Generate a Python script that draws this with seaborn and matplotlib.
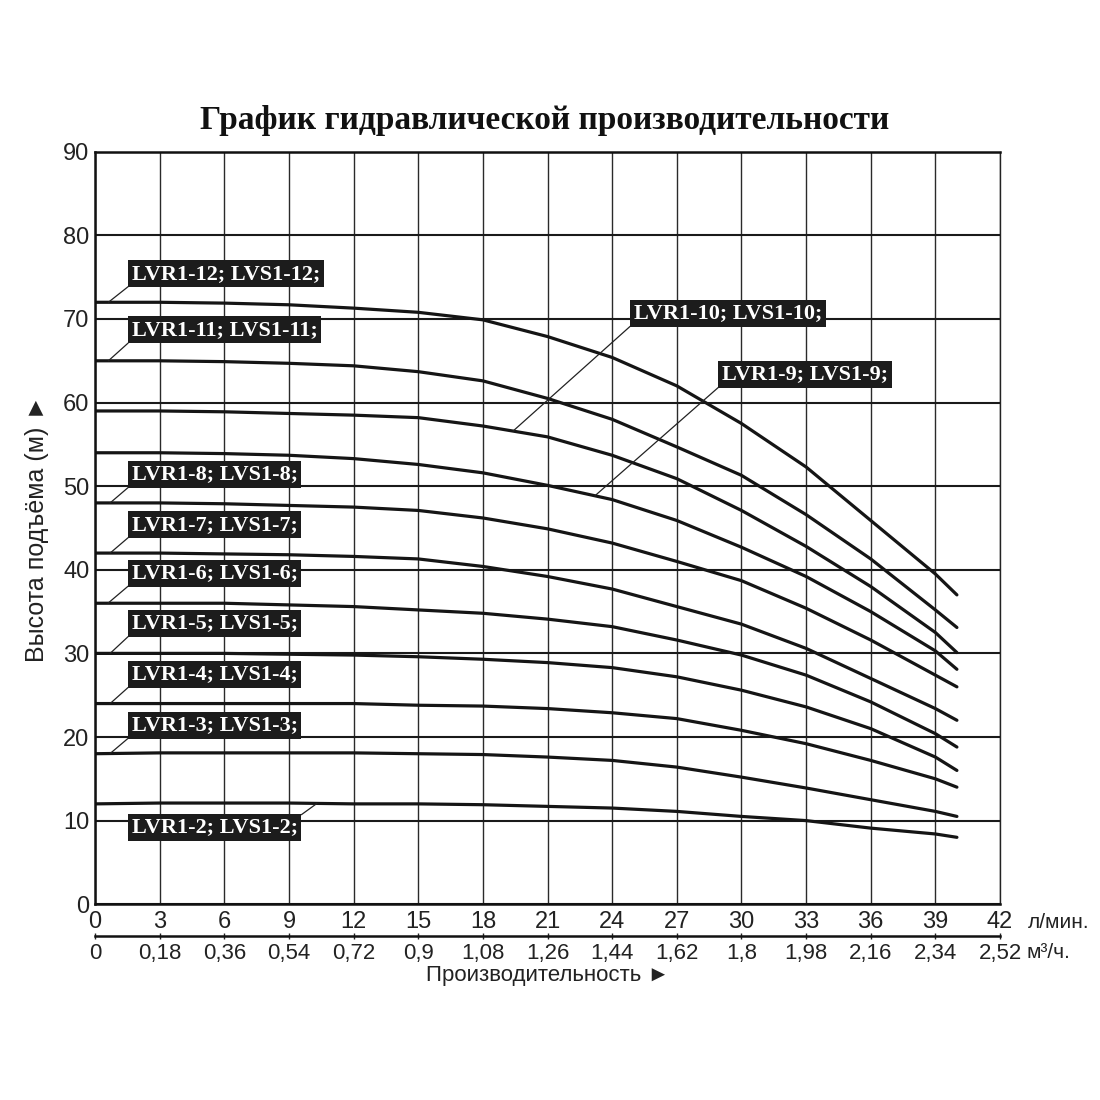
import matplotlib
matplotlib.use("Agg")
import matplotlib.pyplot as plt
import seaborn as sns
import pandas as pd
import numpy as np

# flow, l/min
flow = [0, 3, 6, 9, 12, 15, 18, 21, 24, 27, 30, 33, 36, 39, 40]

# head, m
lvr_12 = [72.0, 72.0, 71.9, 71.7, 71.3, 70.8, 69.9, 67.9, 65.4, 62.0, 57.5, 52.3, 45.9, 39.5, 37.0]
lvr_11 = [65.0, 65.0, 64.9, 64.7, 64.4, 63.7, 62.6, 60.5, 58.0, 54.7, 51.3, 46.6, 41.3, 35.2, 33.1]
lvr_10 = [59.0, 59.0, 58.9, 58.7, 58.5, 58.2, 57.2, 55.9, 53.7, 50.9, 47.1, 42.8, 38.0, 32.5, 30.1]
lvr_9 = [54.0, 54.0, 53.9, 53.7, 53.3, 52.6, 51.6, 50.1, 48.4, 45.9, 42.7, 39.2, 35.0, 30.3, 28.1]
lvr_8 = [48.0, 48.0, 47.9, 47.7, 47.5, 47.1, 46.2, 44.9, 43.2, 41.0, 38.7, 35.4, 31.6, 27.4, 26.0]
lvr_7 = [42.0, 42.0, 41.9, 41.8, 41.6, 41.3, 40.4, 39.2, 37.7, 35.6, 33.5, 30.6, 27.0, 23.4, 22.0]
lvr_6 = [36.0, 36.0, 36.0, 35.8, 35.6, 35.2, 34.8, 34.1, 33.2, 31.6, 29.8, 27.4, 24.2, 20.4, 18.8]
lvr_5 = [30.0, 30.0, 30.0, 29.9, 29.8, 29.6, 29.3, 28.9, 28.3, 27.2, 25.6, 23.6, 21.0, 17.6, 16.0]
lvr_4 = [24.0, 24.0, 24.0, 24.0, 24.0, 23.8, 23.7, 23.4, 22.9, 22.2, 20.8, 19.2, 17.2, 15.0, 14.0]
lvr_3 = [18.0, 18.1, 18.1, 18.1, 18.1, 18.0, 17.9, 17.6, 17.2, 16.4, 15.2, 13.9, 12.5, 11.1, 10.5]
lvr_2 = [12.0, 12.1, 12.1, 12.1, 12.0, 12.0, 11.9, 11.7, 11.5, 11.1, 10.5, 10.0, 9.1, 8.4, 8.0]

models = [12, 11, 10, 9, 8, 7, 6, 5, 4, 3, 2]
heads = [lvr_12, lvr_11, lvr_10, lvr_9, lvr_8, lvr_7, lvr_6, lvr_5, lvr_4, lvr_3, lvr_2]

lpm_ticks = list(range(0, 43, 3))
m3_labels = ["0", "0,18", "0,36", "0,54", "0,72", "0,9", "1,08", "1,26",
             "1,44", "1,62", "1,8", "1,98", "2,16", "2,34", "2,52"]
head_ticks = list(range(0, 91, 10))

rows = []
for m, h in zip(models, heads):
    for q, v in zip(flow, h):
        rows.append({"model": f"LVR1-{m}", "flow": q, "head": v})
df = pd.DataFrame(rows)

sns.set_style("white")
plt.rcParams["font.family"] = ["Liberation Sans", "DejaVu Sans"]

fig = plt.figure(figsize=(11, 11), dpi=100)
ax = fig.add_axes([0.0864, 0.178, 0.8227, 0.684])

sns.lineplot(data=df, x="flow", y="head", units="model", estimator=None,
             color="#151515", linewidth=2.3, ax=ax, legend=False)
for ln in ax.get_lines():
    ln.set_solid_joinstyle("round")
    ln.set_solid_capstyle("round")

ax.set_xlim(0, 42)
ax.set_ylim(0, 90)
ax.set_xticks(lpm_ticks)
ax.set_yticks(head_ticks)
ax.grid(axis="x", color="#2a2a2a", linewidth=1.0)
ax.grid(axis="y", color="#1a1a1a", linewidth=1.5)
ax.set_axisbelow(True)
for side in ["left", "bottom", "top"]:
    ax.spines[side].set_linewidth(1.8)
    ax.spines[side].set_color("#111")
ax.spines["right"].set_linewidth(1.0)
ax.spines["right"].set_color("#222")
ax.tick_params(axis="both", length=0, labelsize=17, colors="#222")
ax.tick_params(axis="x", pad=5)
ax.tick_params(axis="y", pad=4)
ax.set_xlabel("")
ax.set_ylabel("Высота подъёма (м) ►", fontsize=18, color="#222", labelpad=10)

# second flow scale in m3/h
sec = ax.secondary_xaxis(-0.042)
sec.set_xticks(lpm_ticks, labels=m3_labels)
sec.tick_params(direction="inout", length=5, width=1.0, labelsize=16,
                colors="#222", pad=3)
sec.spines["bottom"].set_linewidth(1.8)
sec.spines["bottom"].set_color("#111")

fig.text(1028 / 1100, 1 - 922 / 1100, "л/мин.", fontsize=15, color="#222",
         ha="left", va="center")
fig.text(1026 / 1100, 1 - 952 / 1100, "м³/ч.", fontsize=15, color="#222",
         ha="left", va="center")
fig.text(548 / 1100, 1 - 975 / 1100, "Производительность ►", fontsize=16,
         color="#222", ha="center", va="center")

fig.text(0.4955, 1 - 120 / 1100, "График гидравлической производительности",
         fontsize=24, fontweight="bold", family="Liberation Serif",
         ha="center", va="center", color="#111")

# curve labels: text position and the point on the curve the leader goes to
label_models = [12, 11, 10, 9, 8, 7, 6, 5, 4, 3, 2]
label_x = [1.7, 1.7, 25.0, 29.1, 1.7, 1.7, 1.7, 1.7, 1.7, 1.7, 1.7]
label_y = [75.4, 68.7, 70.7, 63.4, 51.4, 45.4, 39.6, 33.6, 27.5, 21.4, 9.2]
label_px = [0.62, 0.62, 19.4, 23.2, 0.7, 0.7, 0.6, 0.7, 0.7, 0.7, 10.3]
label_rel = [(0, 0)] * 10 + [(1, 1)]

box = dict(boxstyle="square,pad=0.16", facecolor="#1c1c1c", edgecolor="none")
for m, tx, ty, px, rel in zip(label_models, label_x, label_y, label_px, label_rel):
    h = heads[models.index(m)]
    py = np.interp(px, flow, h)
    ax.annotate(f"LVR1-{m}; LVS1-{m};", xy=(px, py), xytext=(tx, ty),
                ha="left", va="center", fontsize=16, fontweight="bold",
                family="Liberation Serif", color="white", bbox=box,
                arrowprops=dict(arrowstyle="-", color="#222", lw=0.9,
                                relpos=rel, shrinkA=0, shrinkB=0))

fig.savefig("out.png", dpi=100, facecolor="white")
plt.close(fig)
